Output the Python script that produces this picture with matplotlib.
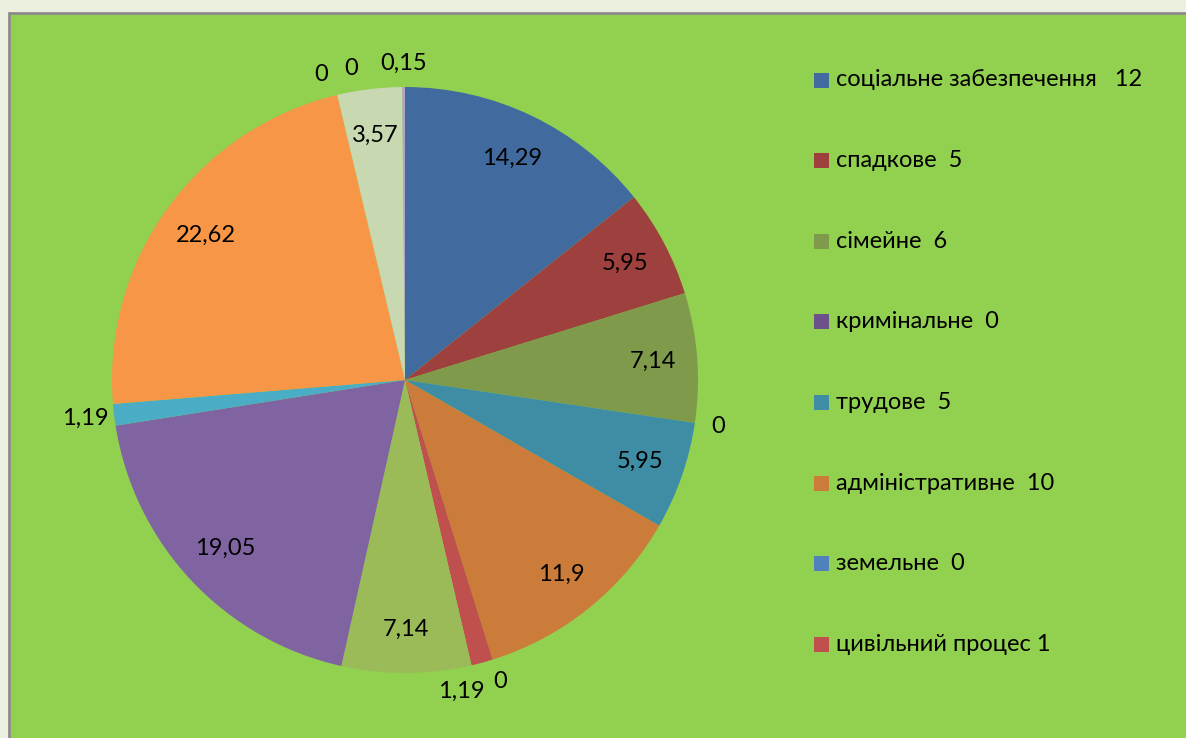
import numpy as np
import matplotlib.pyplot as plt
from matplotlib.patches import Rectangle

plt.rcParams['font.family'] = ['Lato', 'DejaVu Sans']

# slice values (percent), clockwise from 12 o'clock
values = [14.29, 5.95, 7.14, 0, 5.95, 11.9, 0, 1.19, 7.14, 19.05, 1.19, 22.62, 0, 0, 3.57, 0.15]
labels = ['14,29', '5,95', '7,14', '0', '5,95', '11,9', '0', '1,19', '7,14', '19,05', '1,19', '22,62', '0', '0', '3,57', '0,15']
colors = ['#416B9F', '#9E413E', '#7F9A4A', '#6B5089', '#3E8DA4', '#CC7C3A', '#4F81BD', '#C0504D',
          '#9BBB59', '#8064A2', '#4BACC6', '#F79646', '#B7CA8E', '#A99BBD', '#C8D8B0', '#B3A2C7']
legend_names = ['соціальне забезпечення   12', 'спадкове  5', 'сімейне  6', 'кримінальне  0',
                'трудове  5', 'адміністративне  10', 'земельне  0', 'цивільний процес 1']
# extra angular nudge (deg) for crowded outside labels
nudge = [0, 0, 0, 0, 0, 0, 0, -5, 0, 0, 0, 0, 2, -3.5, 0, 0]

W, H = 1186, 738
fig = plt.figure(figsize=(W / 100, H / 100), dpi=100)
fig.patch.set_facecolor('#EBF1DE')

# chart area
bg = fig.add_axes([0, 0, 1, 1])
bg.set_xlim(0, W)
bg.set_ylim(H, 0)
bg.axis('off')
bg.add_patch(Rectangle((8.5, 12.5), W + 10, H + 10, facecolor='#92D050', edgecolor='#8C8C8C', linewidth=2))

# pie axes with pixel-sized data units
cx, cy, R = 405, 380, 293
ax = fig.add_axes([(cx - 330) / W, (H - cy - 330) / H, 660 / W, 660 / H])

vals = np.array(values, dtype=float)
wedges, _ = ax.pie(vals, colors=colors, startangle=90, counterclock=False, radius=R,
                   wedgeprops=dict(linewidth=0))
ax.set_xlim(-330, 330)
ax.set_ylim(-330, 330)
ax.set_aspect('equal')
ax.axis('off')

cum = np.cumsum(vals) - vals / 2
total = vals.sum()
for i, (v, lab) in enumerate(zip(vals, labels)):
    ang = np.deg2rad(90 - 360 * cum[i] / total + nudge[i])
    if v / total < 0.02:
        d = R * 1.08
        if np.cos(ang) < -0.9:
            d = R * 1.1
    else:
        d = R * 0.84 if v < 5 or v > 12 else R * 0.85
    ax.text(d * np.cos(ang), d * np.sin(ang), lab, ha='center', va='center', fontsize=17, color='black')

# legend
y0, step = 80, 80.6
for i, name in enumerate(legend_names):
    y = y0 + i * step
    bg.add_patch(Rectangle((814, y - 7.5), 15, 15, facecolor=colors[i], edgecolor='none'))
    bg.text(836, y, name, ha='left', va='center', fontsize=17, color='black')

fig.savefig('out.png', dpi=100, facecolor=fig.get_facecolor())
